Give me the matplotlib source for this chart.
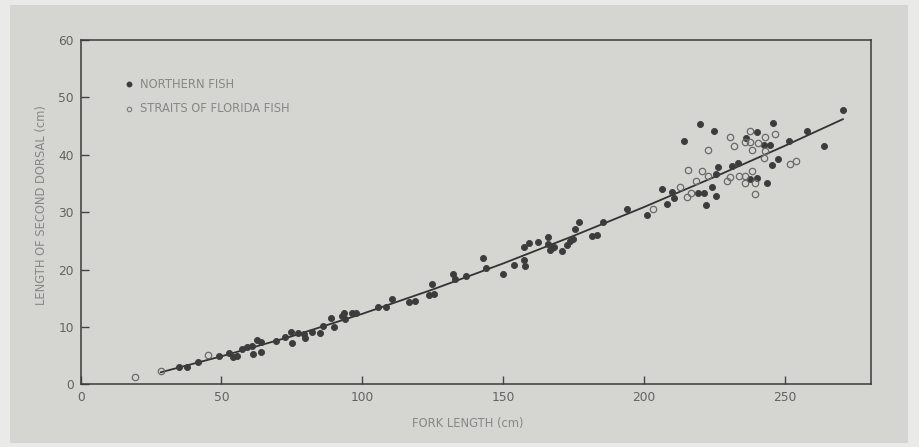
import matplotlib
matplotlib.use("Agg")
import matplotlib.pyplot as plt
from matplotlib.patches import Rectangle

# Northern fish (filled circles)
north_x = [35.0, 37.8, 41.6, 49.2, 52.7, 54.1, 55.4, 57.2, 59.0, 60.8, 61.1, 62.5, 63.9, 63.9,
           69.4, 72.6, 74.6, 75.0, 77.2, 79.4, 79.7, 82.2, 85.0, 86.0, 88.8, 90.0, 92.8, 93.5,
           93.8, 96.4, 97.8, 105.6, 108.4, 110.7, 116.7, 118.7, 123.7, 125.5, 124.9, 132.2,
           133.0, 136.8, 143.0, 143.9, 150.1, 154.0, 157.3, 157.9, 157.3, 159.3, 162.3, 165.9,
           165.8, 166.7, 167.3, 168.1, 170.8, 172.6, 173.8, 174.8, 175.6, 177.1, 181.5, 183.3,
           185.6, 193.9, 201.1, 206.3, 208.2, 209.9, 210.9, 214.4, 219.8, 219.4, 221.5, 222.1,
           224.8, 224.3, 225.6, 225.7, 226.3, 231.4, 233.5, 236.3, 237.8, 240.1, 240.3, 242.8,
           244.9, 243.7, 245.4, 246.0, 247.8, 251.4, 257.9, 264.1, 270.7]
north_y = [3.0, 3.1, 3.8, 4.9, 5.4, 4.7, 5.0, 6.1, 6.5, 6.6, 5.2, 7.8, 7.3, 5.6,
           7.5, 8.2, 9.1, 7.2, 8.9, 8.7, 8.0, 9.1, 8.9, 10.1, 11.5, 9.9, 11.9, 12.4,
           11.3, 12.4, 12.4, 13.4, 13.5, 14.8, 14.3, 14.5, 15.5, 15.8, 17.4, 19.3,
           18.3, 18.9, 22.0, 20.2, 19.3, 20.8, 21.6, 20.6, 23.9, 24.6, 24.8, 25.6,
           24.5, 23.4, 23.8, 24.0, 23.3, 24.2, 25.0, 25.4, 27.1, 28.3, 25.8, 26.1,
           28.3, 30.6, 29.5, 34.0, 31.4, 33.5, 32.5, 42.4, 45.3, 33.3, 33.3, 31.3,
           44.1, 34.4, 32.8, 36.7, 37.9, 38.0, 38.5, 43.0, 35.7, 43.9, 36.0, 41.7,
           41.7, 35.0, 38.3, 45.6, 39.2, 42.4, 44.2, 41.5, 47.8]

# Straits of Florida fish (open circles)
florida_x = [19.3, 28.5, 45.3, 203.4, 212.9, 215.2, 216.8, 215.7, 218.6, 220.8, 222.9, 222.9,
             229.7, 230.6, 230.6, 232.1, 233.9, 235.8, 236.0, 236.0, 237.8, 237.8, 238.6,
             238.6, 239.4, 239.4, 240.4, 242.9, 242.8, 242.9, 246.6, 252.0, 254.0]
florida_y = [1.2, 2.3, 5.1, 30.5, 34.4, 32.7, 33.4, 37.4, 35.4, 37.2, 40.8, 36.3,
             35.5, 36.2, 43.1, 41.6, 36.3, 36.3, 35.0, 42.3, 44.1, 42.3, 40.8,
             37.2, 35.0, 33.1, 42.1, 43.1, 39.4, 40.6, 43.7, 38.4, 38.9]

# Fitted curve
curve_x = [28.5, 50, 75, 100, 125, 150, 175, 200, 225, 250, 270.7]
curve_y = [2.1, 4.88, 8.37, 12.28, 16.52, 21.05, 25.86, 30.87, 36.11, 41.54, 46.2]

x_ticks = [0, 50, 100, 150, 200, 250]
y_ticks = [0, 10, 20, 30, 40, 50, 60]

panel = '#d5d5d2'
text_col = '#878785'
tick_col = '#626260'

fig = plt.figure(figsize=(9.19, 4.47), dpi=100, facecolor='#eaeae8')
fig.patches.append(Rectangle((10 / 919, 4 / 447), 898 / 919, 438 / 447,
                             transform=fig.transFigure, facecolor=panel,
                             edgecolor='none', zorder=-10))

ax = fig.add_axes([80.7 / 919, (447 - 384.3) / 447, (871 - 80.7) / 919, (384.3 - 40) / 447])
ax.set_facecolor(panel)

ax.plot(curve_x, curve_y, color='#333333', lw=1.3, zorder=2)
ax.plot(north_x, north_y, 'o', ms=4.4, mfc='#3c3c3c', mec='#3c3c3c', mew=0.6, zorder=3)
ax.plot(florida_x, florida_y, 'o', ms=4.6, mfc='none', mec='#6a6a6a', mew=0.9, zorder=3)

ax.set_xlim(0, 280.7)
ax.set_ylim(0, 60)
ax.set_xticks(x_ticks)
ax.set_yticks(y_ticks)
ax.tick_params(direction='in', length=6, width=1.0, color='#444444',
               labelsize=8.8, labelcolor=tick_col, pad=5)
for s in ax.spines.values():
    s.set_color('#3a3a3a')
    s.set_linewidth(1.1)

# legend drawn as text
ax.plot([17.2], [52.3], 'o', ms=3.2, mfc='#3c3c3c', mec='#3c3c3c', clip_on=False)
ax.plot([17.2], [48.0], 'o', ms=3.2, mfc='none', mec='#7a7a7a', mew=0.8, clip_on=False)
ax.text(21.2, 52.3, 'NORTHERN FISH', fontsize=8.3, color=text_col, va='center', ha='left')
ax.text(21.2, 48.0, 'STRAITS OF FLORIDA FISH', fontsize=8.3, color=text_col, va='center', ha='left')

fig.text(468 / 919, 1 - 423 / 447, 'FORK LENGTH (cm)', fontsize=8.3, color=text_col,
         ha='center', va='center')
fig.text(42 / 919, 1 - 205 / 447, 'LENGTH OF SECOND DORSAL (cm)', fontsize=8.3,
         color=text_col, ha='center', va='center', rotation=90)

fig.savefig('out.png', dpi=100, facecolor=fig.get_facecolor())
